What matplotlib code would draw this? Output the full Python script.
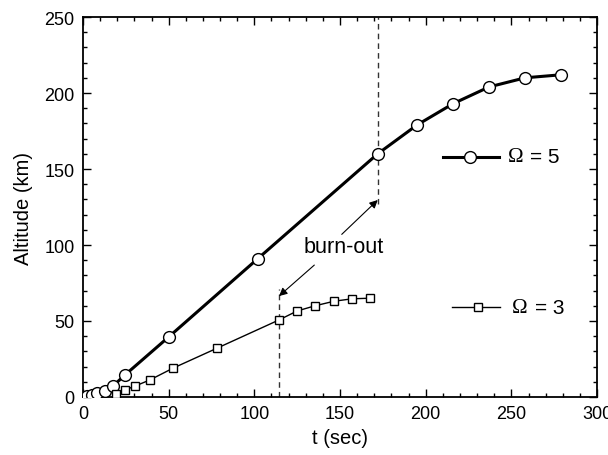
import matplotlib
matplotlib.use("Agg")
import matplotlib.pyplot as plt
from matplotlib.ticker import MultipleLocator

plt.rcParams['font.family'] = ['Liberation Sans', 'DejaVu Sans']

# Omega = 5
t5 = [0, 2.5, 5.3, 8.2, 12.8, 17.5, 24.5, 50, 102, 172, 195, 216, 237, 258, 279]
h5 = [0, 0.5, 1.3, 2.6, 4.0, 7.2, 14.5, 39.5, 91, 160, 179, 193, 204, 210, 212]
# Omega = 3
t3 = [19.3, 24.5, 30.4, 39, 52.6, 78, 114.4, 125, 135.4, 146.5, 157, 167.5]
h3 = [2.0, 4.6, 7.2, 11.2, 19, 32, 50.7, 56.6, 60, 63, 64.6, 65]

burn5_t = 172
burn3_t = 114.4

SERIF = ['Liberation Serif', 'DejaVu Serif']

fig = plt.figure(figsize=(6.08, 4.56), dpi=100)
ax = fig.add_axes([0.1365, 0.1272, 0.982 - 0.1365, 0.9605 - 0.1272])

ax.plot(t5, h5, '-', color='black', lw=2.2, marker='o', ms=8.5,
        mfc='white', mec='black', mew=1.0, zorder=3)
ax.plot(t3, h3, '-', color='black', lw=1.0, marker='s', ms=6,
        mfc='white', mec='black', mew=1.0, zorder=3)

# burn-out dashed lines
ax.plot([burn5_t, burn5_t], [127, 250], ls=(0, (4, 3)), color='#333333', lw=1.0, zorder=2)
ax.plot([burn3_t, burn3_t], [0, 71], ls=(0, (4, 3)), color='#333333', lw=1.0, zorder=2)

ax.annotate('', xy=(172, 129.6), xytext=(151, 107),
            arrowprops=dict(arrowstyle='-|>', color='black', lw=0.8,
                            mutation_scale=12, shrinkA=0, shrinkB=0))
ax.annotate('', xy=(114.4, 66.4), xytext=(135, 86.8),
            arrowprops=dict(arrowstyle='-|>', color='black', lw=0.8,
                            mutation_scale=12, shrinkA=0, shrinkB=0))
ax.text(152, 99.3, 'burn-out', ha='center', va='center', fontsize=15.5)

# legends (manual)
ax.plot([210, 243], [158, 158], '-', color='black', lw=2.2)
ax.plot([226], [158], 'o', ms=8.5, mfc='white', mec='black', mew=1.0)
ax.text(248.1, 158, 'Ω', ha='left', va='center', fontsize=15, family=SERIF)
ax.text(261, 158, '= 5', ha='left', va='center', fontsize=15)

ax.plot([215.4, 243.4], [59, 59], '-', color='black', lw=1.0)
ax.plot([230.6], [59], 's', ms=6, mfc='white', mec='black', mew=1.0)
ax.text(250.4, 59, 'Ω', ha='left', va='center', fontsize=15, family=SERIF)
ax.text(264, 59, '= 3', ha='left', va='center', fontsize=15)

ax.set_xlim(0, 300)
ax.set_ylim(0, 250)
ax.xaxis.set_major_locator(MultipleLocator(50))
ax.xaxis.set_minor_locator(MultipleLocator(10))
ax.yaxis.set_major_locator(MultipleLocator(50))
ax.yaxis.set_minor_locator(MultipleLocator(10))
ax.tick_params(which='both', direction='in', top=True, right=True, labelsize=13, width=1.0, pad=6)
ax.tick_params(which='major', length=6)
ax.tick_params(which='minor', length=3)
for s in ax.spines.values():
    s.set_linewidth(1.3)

ax.set_xlabel('t (sec)', fontsize=14.5, labelpad=4)
ax.set_ylabel('Altitude (km)', fontsize=14.5, labelpad=8)

fig.savefig('out.png', dpi=100)
